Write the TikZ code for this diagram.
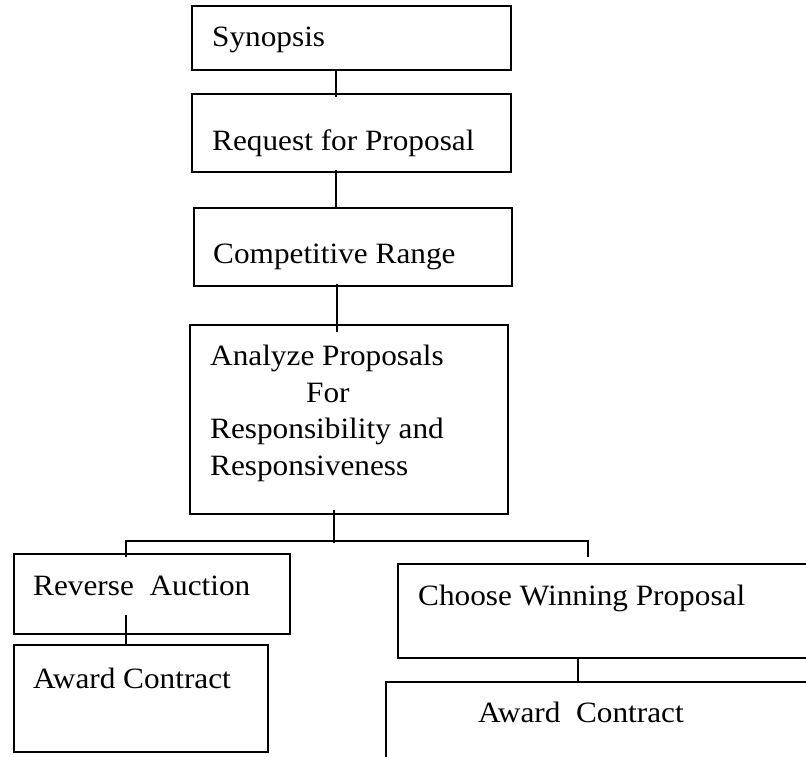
\documentclass[tikz,border=0pt]{standalone}
\usepackage{fontspec}
\setmainfont[FakeStretch=1.06]{Liberation Serif}
\usetikzlibrary{calc}
\tikzset{
  box/.style={draw, line width=2.3pt, rectangle, inner sep=0pt, anchor=north west},
  txt/.style={anchor=base west, inner sep=0pt, font=\fontsize{29.5}{35}\selectfont},
  conn/.style={line width=2.3pt}
}
\begin{document}
\begin{tikzpicture}[x=1pt,y=-1pt]
\clip (0,0) rectangle (806,757);
\fill[white] (0,0) rectangle (806,757);
% boxes
\node[box, minimum width=319pt, minimum height=64pt] (syn) at (191,5) {};
\node[box, minimum width=319pt, minimum height=78pt] (rfp) at (191,93) {};
\node[box, minimum width=318pt, minimum height=78pt] (cr) at (193,207) {};
\node[box, minimum width=318pt, minimum height=189pt] (an) at (189,324) {};
\node[box, minimum width=276pt, minimum height=80pt] (ra) at (13,553) {};
\node[box, minimum width=254pt, minimum height=107pt] (ac1) at (13,644) {};
\node[box, minimum width=420pt, minimum height=94pt] (cw) at (397,563) {};
\node[box, minimum width=432pt, minimum height=90pt] (ac2) at (385,681) {};
% texts
\node[txt] (tsyn) at (212,47) {Synopsis};
\node[txt] (trfp) at (212,151) {Request for Proposal};
\node[txt] (tcr) at (213,263) {Competitive Range};
\node[txt] (tan1) at (210,365) {Analyze Proposals};
\node[txt] (tan2) at (306,402) {For};
\node[txt] (tan3) at (210,438) {Responsibility and};
\node[txt] (tan4) at (210,475) {Responsiveness};
\node[txt] (tra) at (33,595) {Reverse\ \ Auction};
\node[txt] (tac1) at (33,688) {Award Contract};
\node[txt] (tcw) at (418,605) {Choose Winning Proposal};
\node[txt] (tac2) at (478,722) {Award\ \ Contract};
% connectors
\draw[conn] ($(syn.south)+(-15.5,0)$) coordinate (p1) -- ($(p1 |- rfp.north)+(0,4)$);
\draw[conn] ($(rfp.south)+(-15.5,-3)$) coordinate (p2) -- (p2 |- cr.north);
\draw[conn] ($(cr.south)+(-16,-3)$) coordinate (p3) -- ($(p3 |- an.north)+(0,8)$);
\draw[conn] ($(an.south)+(-15,-5)$) coordinate (p4) -- ($(an.south)+(-15,28)$);
\draw[conn] ($(ra.north)+(-26,4)$) -- ++(0,-16) -| ($(cw.north)+(-20,-6)$);
\draw[conn] ($(ra.south)+(-26,-20)$) coordinate (p5) -- (p5 |- ac1.north);
\draw[conn] ($(cw.south)+(-30,0)$) coordinate (p6) -- (p6 |- ac2.north);
\end{tikzpicture}
\end{document}
